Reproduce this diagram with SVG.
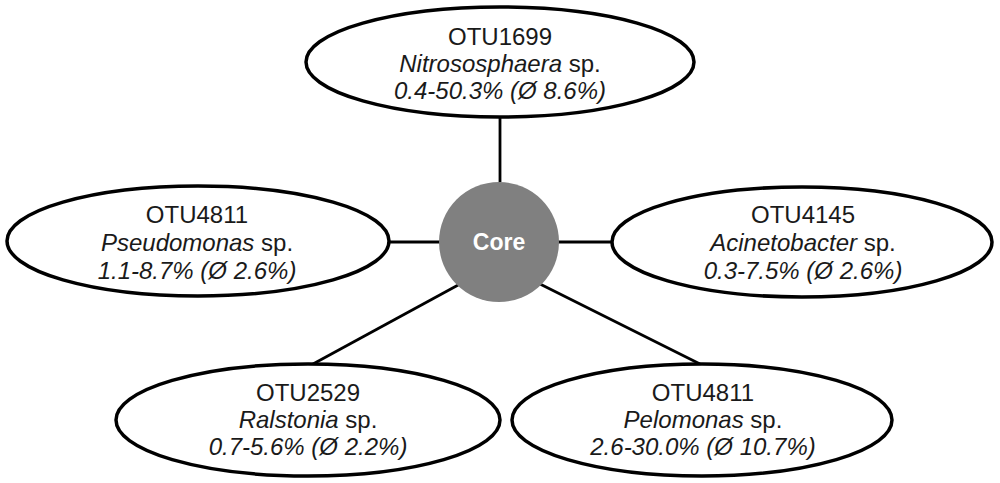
<svg xmlns="http://www.w3.org/2000/svg" width="1000" height="483" viewBox="0 0 1000 483">
<style>
.ell{fill:#fff;stroke:#000;stroke-width:3.5}
.con{stroke:#000;stroke-width:2.8;fill:none}
text{font-family:"Liberation Sans",Arial,sans-serif;font-size:24px;fill:#1a1a1a;text-anchor:middle}
.i{font-style:italic}
.core{fill:#fff;font-weight:bold;font-size:23px}
</style>
<rect width="1000" height="483" fill="#fff"/>
<g id="connectors">
<line class="con" x1="500" y1="117" x2="500" y2="182"/>
<line class="con" x1="389" y1="242" x2="440" y2="242"/>
<line class="con" x1="558" y1="242" x2="612" y2="242"/>
<line class="con" x1="460" y1="284" x2="313" y2="364"/>
<line class="con" x1="540" y1="284" x2="700" y2="364"/>
</g>
<g id="core">
<circle cx="499" cy="242" r="60" fill="#808080"/>
<text class="core" x="499" y="250">Core</text>
</g>
<g id="otu1699">
<ellipse class="ell" cx="500" cy="62" rx="194" ry="55"/>
<text x="500" y="45">OTU1699</text>
<text x="500" y="72"><tspan class="i">Nitrososphaera</tspan> sp.</text>
<text x="500" y="99" class="i">0.4-50.3% (Ø 8.6%)</text>
</g>
<g id="otu4811a">
<ellipse class="ell" cx="198" cy="241" rx="191" ry="55"/>
<text x="197" y="223">OTU4811</text>
<text x="197" y="251"><tspan class="i">Pseudomonas</tspan> sp.</text>
<text x="197" y="279" class="i">1.1-8.7% (Ø 2.6%)</text>
</g>
<g id="otu4145">
<ellipse class="ell" cx="802" cy="242" rx="190" ry="55"/>
<text x="803" y="223">OTU4145</text>
<text x="803" y="251"><tspan class="i">Acinetobacter</tspan> sp.</text>
<text x="803" y="279" class="i">0.3-7.5% (Ø 2.6%)</text>
</g>
<g id="otu2529">
<ellipse class="ell" cx="308" cy="420" rx="192" ry="56"/>
<text x="308" y="401">OTU2529</text>
<text x="308" y="428"><tspan class="i">Ralstonia</tspan> sp.</text>
<text x="308" y="455" class="i">0.7-5.6% (Ø 2.2%)</text>
</g>
<g id="otu4811b">
<ellipse class="ell" cx="702" cy="420" rx="190" ry="56"/>
<text x="703" y="401">OTU4811</text>
<text x="703" y="428"><tspan class="i">Pelomonas</tspan> sp.</text>
<text x="703" y="455" class="i">2.6-30.0% (Ø 10.7%)</text>
</g>
</svg>
